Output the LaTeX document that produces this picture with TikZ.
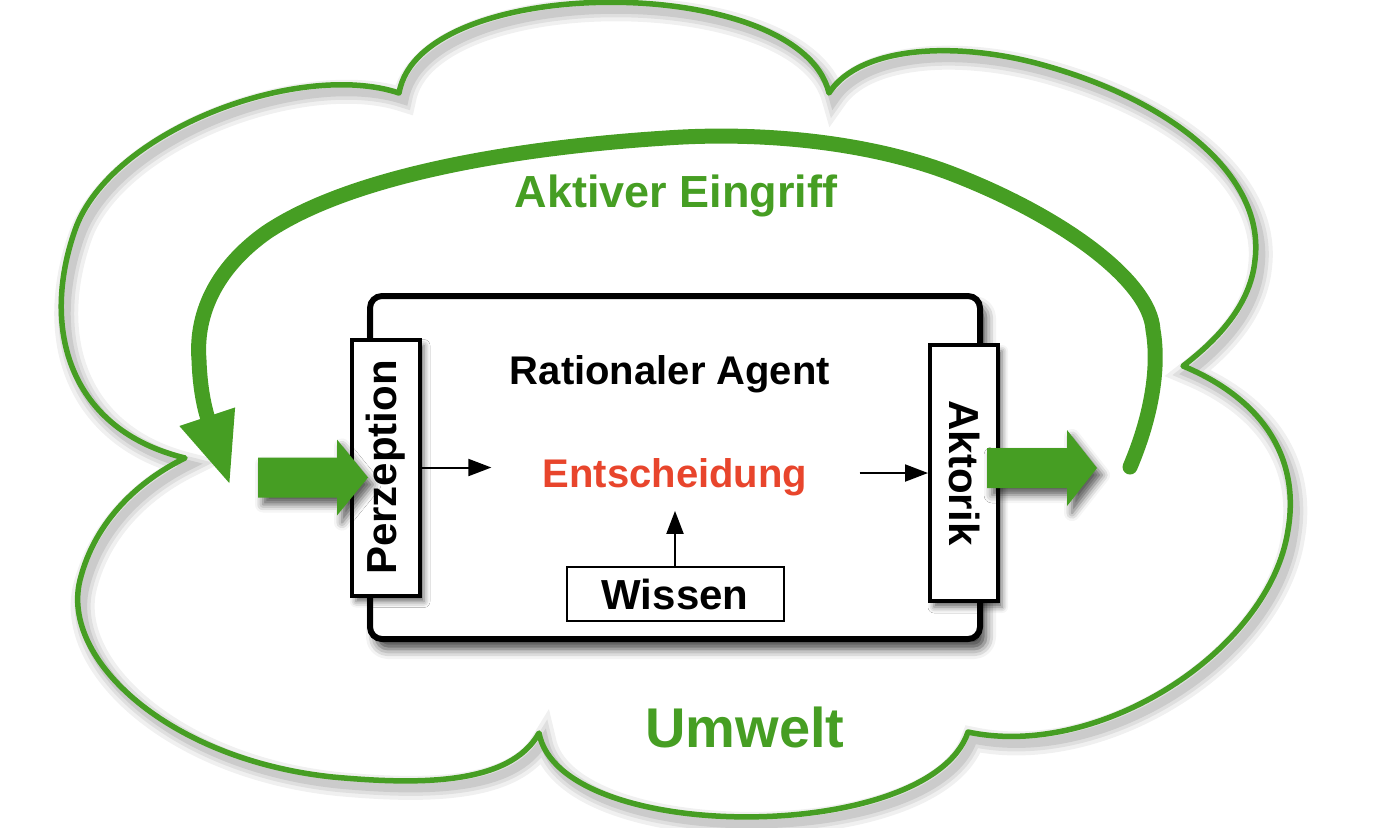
\documentclass[tikz,border=0pt]{standalone}
\usepackage{fontspec}
\setmainfont{Liberation Sans}
\usepackage{graphicx}
\usetikzlibrary{shadows, shadows.blur, arrows.meta, positioning, calc}
\definecolor{umwelt}{RGB}{70,158,35}
\definecolor{entscheid}{RGB}{232,69,44}

\tikzset{
  agentbox/.style={draw, line width=3pt, rounded corners=6pt, fill=white, minimum width=305pt, minimum height=171.5pt,
    blur shadow={shadow xshift=3pt, shadow yshift=-5pt, shadow blur radius=5pt, shadow opacity=75}},
  sidebox/.style={draw, line width=2pt, fill=white, inner sep=0pt, minimum width=34pt, minimum height=128pt,
    font=\fontsize{21}{25}\selectfont\bfseries,
    blur shadow={shadow xshift=2pt, shadow yshift=-3pt, shadow blur radius=3pt, shadow opacity=60}},
  wissenbox/.style={draw, line width=1pt, fill=white, inner sep=0pt, minimum width=108.5pt, minimum height=27pt,
    font=\fontsize{21}{25}\selectfont\bfseries},
  agenttext/.style={inner sep=0pt, anchor=base, font=\fontsize{20}{24}\selectfont\bfseries},
  greentext/.style={inner sep=0pt, anchor=base, text=umwelt},
  smallarrow/.style={line width=1pt, -{Triangle[length=11.5pt, width=8.5pt]}},
  blockarrow/.style={fill=umwelt, blur shadow={shadow xshift=2.5pt, shadow yshift=-3.5pt, shadow blur radius=4pt, shadow opacity=65}},
  cloudline/.style={draw=umwelt, line width=2.75pt, line join=round,
    preaction={draw=black, draw opacity=0.06, line width=12pt, transform canvas={shift={(2.5pt,-3.5pt)}}},
    preaction={draw=black, draw opacity=0.07, line width=8pt, transform canvas={shift={(2.5pt,-3.5pt)}}},
    preaction={draw=black, draw opacity=0.09, line width=4.5pt, transform canvas={shift={(2.5pt,-3.5pt)}}}},
  eingriff/.style={draw=umwelt, line width=7.5pt, line cap=round, -{Triangle[length=36pt, width=27pt]}},
}

\begin{document}
\begin{tikzpicture}[x=0.5pt, y=-0.5pt]
    \useasboundingbox (0,0) rectangle (1375,827);
    % Umwelt
    \draw[cloudline] (185,458)
      .. controls (70,430) and (40,330) .. (75,230)
      .. controls (110,130) and (300,60) .. (399,93)
      .. controls (420,-28) and (800,-28) .. (829,93)
      .. controls (860,45) and (960,40) .. (1050,67)
      .. controls (1180,105) and (1265,180) .. (1255,260)
      .. controls (1250,310) and (1210,345) .. (1183,366)
      .. controls (1265,400) and (1300,460) .. (1288,530)
      .. controls (1270,650) and (1100,760) .. (968,732)
      .. controls (930,845) and (560,845) .. (539,733)
      .. controls (510,785) and (420,785) .. (333,777)
      .. controls (170,760) and (60,660) .. (80,580)
      .. controls (95,520) and (140,480) .. (185,458) -- cycle;
    % Aktiver Eingriff
    \coordinate (E1) at (1130,467);
    \coordinate (E2) at (230,485);
    \draw[eingriff] (E1)
      .. controls (1150,420) and (1160,370) .. (1153,330)
      .. controls (1150,280) and (1060,215) .. (950,173)
      .. controls (860,139) and (750,132) .. (666,138)
      .. controls (540,146) and (360,170) .. (267,232)
      .. controls (220,265) and (195,310) .. (199,360)
      .. controls (200,390) and (205,410) .. (E2);
    \node[greentext, font=\fontsize{22.5}{27}\selectfont\bfseries] (G) at (676,207) {Aktiver Eingriff};
    \node[greentext, font=\fontsize{28}{34}\selectfont\bfseries] (U) at (745,747) {Umwelt};
    % Agent
    \node[agentbox] (A) at (675,467.5) {};
    \node[sidebox, right=-8.5pt of A.west] (P) {\rotatebox{90}{Perzeption}};
    \node[sidebox, left=-8.5pt of A.east, yshift=-2.75pt] (K) {\rotatebox{-90}{Aktorik}};
    \node[wissenbox, above=10pt of A.south] (W) {Wissen};
    \node[agenttext] (R) at (670,384) {Rationaler Agent};
    \node[agenttext, text=entscheid] (D) at (675,487) {Entscheidung};
    \draw[smallarrow, shorten >=25.5pt] (P.east) -- (P.east -| D.west);
    \draw[smallarrow, shorten <=26pt] (D.east |- K.west) -- (K.west);
    \draw[smallarrow, shorten >=7.5pt] (W.north) -- (W.north |- D.south);
    % Ein- und Ausgang
    \fill[blockarrow] ([shift={(18,10)}]P.west) -- ++(-31,-38) -- ++(0,18) -- ++(-79,0) -- ++(0,40) -- ++(79,0) -- ++(0,18) -- cycle;
    \fill[blockarrow] ([shift={(97,-5)}]K.east) -- ++(-30,-38) -- ++(0,18) -- ++(-80,0) -- ++(0,40) -- ++(80,0) -- ++(0,18) -- cycle;
\end{tikzpicture}
\end{document}
